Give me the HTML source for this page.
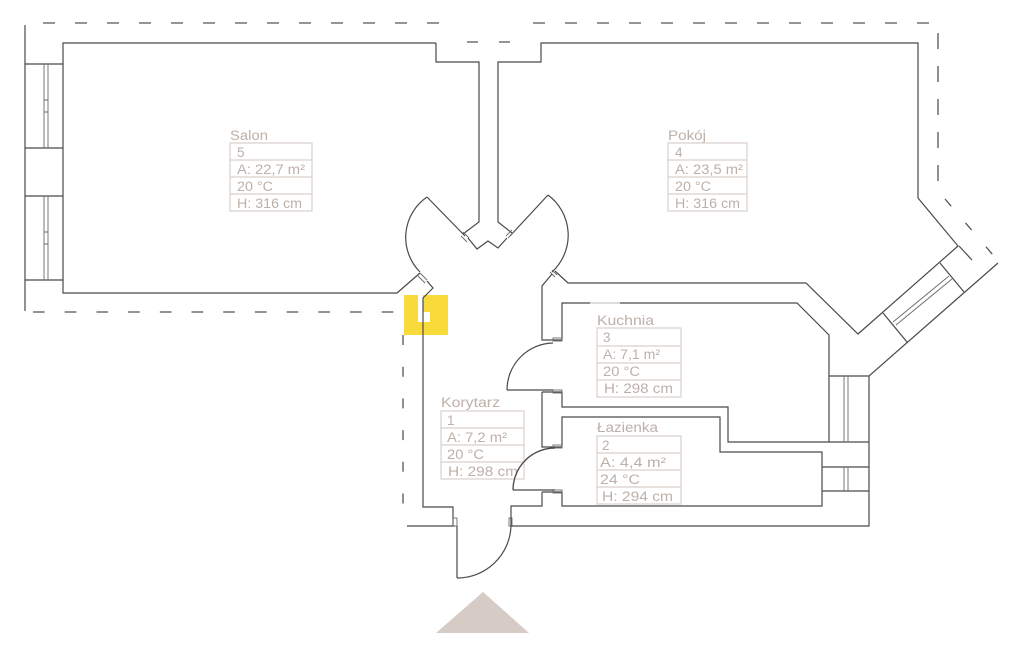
<!DOCTYPE html>
<html><head><meta charset="utf-8"><style>
html,body{margin:0;padding:0;background:#fff;}
svg{display:block;}
.w{fill:none;stroke:#4a4a4a;stroke-width:1.2;stroke-linejoin:miter;}
.t{fill:none;stroke:#6a6a6a;stroke-width:0.9;}
.d{fill:none;stroke:#555;stroke-width:1.3;}
.tb{fill:none;stroke:#d9d0cb;stroke-width:1.2;}
text{font-family:"Liberation Sans",sans-serif;font-size:13.5px;fill:#bdb0a9;}
</style></head><body>
<svg width="1024" height="655" viewBox="0 0 1024 655" xmlns="http://www.w3.org/2000/svg">
<rect width="1024" height="655" fill="#fff"/>

<!-- yellow logo -->
<g fill="#f8da3a">
<path d="M404,295 H418 V322 H430 V312 H423 V295 H448 V335 H404 Z"/>
</g>

<!-- dashed outlines -->
<path class="d" d="M43,23 H440" stroke-dasharray="12 20"/>
<path class="d" d="M533,23 H930" stroke-dasharray="12 20"/>
<path class="d" d="M467,42 H512" stroke-dasharray="11 21"/>
<path class="d" d="M33,312 H395" stroke-dasharray="11.7 20"/>
<path class="d" d="M403,335 V506" stroke-dasharray="10 21.7"/>
<path class="d" d="M938,33 V185" stroke-dasharray="16 17"/>
<path class="d" d="M945,199 L993,255" stroke-dasharray="9.5 22"/>

<!-- left exterior + windows -->
<path class="w" d="M25,25 V311"/>
<path class="w" d="M25,64 H63 M25,148 H63 M25,196 H63 M25,280 H63"/>
<path class="t" d="M44,64 V148 M48,64 V148 M44,196 V280 M48,196 V280"/>
<path class="t" d="M44,100 H48 M44,112 H48 M44,232 H48 M44,244 H48"/>

<!-- Salon -->
<path class="w" d="M436,43 H63 V293 H397 L420,273"/>
<path class="w" d="M436,43 V62 H479 V222 L463,234"/>
<!-- Pokoj -->
<path class="w" d="M498,222 V62 H541 V43 H918 V198 L958,246 L858,334 L806,283 H568 L555,271"/>
<path class="w" d="M498,222 L512,233"/>
<path class="w" d="M468,238 L477,249 L488,241 L498,248 L507,238"/>

<!-- double doors to Salon/Pokoj -->
<path class="w" d="M427,197 L465,236"/>
<path class="w" d="M427,197 A49,49 0 0 0 420,272"/>
<path class="w" d="M548,195 L510,236"/>
<path class="w" d="M548,195 A50,50 0 0 1 552,272"/>
<path class="t" d="M461,236 L467,242 M463,232 L469,238 M508,238 L514,232 M506,236 L512,230"/>

<!-- Salon door frame & corridor left wall -->
<path class="t" d="M420,273 L427,280 M418,276 L425,283"/>
<path class="w" d="M427,281 L433,288 L423,298 V507 H453 V526"/>
<path class="w" d="M407,526 H455"/>
<rect x="453" y="518" width="4" height="8" class="t"/>
<rect x="509" y="518" width="3" height="8" class="t"/>

<!-- entrance door -->
<path class="w" d="M457,526 V578"/>
<path class="w" d="M457,578 A54,54 0 0 0 511,526"/>
<path class="w" d="M511,526 V506 H542 V492"/>
<path class="w" d="M511,526 H869 V376 L998,263"/>

<!-- corridor right wall / Kuchnia -->
<path class="t" d="M552,270 L557,275 M550,272 L555,277"/>
<path class="w" d="M552,274 L542,286 V340 H562"/>
<path class="w" d="M562,340 V303 H590"/>
<path class="w" d="M590,303 H620" style="stroke:#c8c8c8"/>
<path class="w" d="M620,303 H797 L829,335 V442 H728 V407 H562 V392"/>
<path class="w" d="M542,392 H562 M542,392 V447 H562"/>
<rect x="553" y="338" width="9" height="3" class="t"/>
<rect x="553" y="390" width="9" height="3" class="t"/>
<!-- Kuchnia door -->
<path class="w" d="M553,390 H507"/>
<path class="w" d="M507,390 A47,47 0 0 1 553,343"/>

<!-- Lazienka -->
<path class="w" d="M562,447 V417 H720 V452 H822 V506 H562 V492"/>
<path class="w" d="M542,492 H562"/>
<rect x="553" y="445" width="9" height="3" class="t"/>
<rect x="553" y="490" width="9" height="3" class="t"/>
<path class="w" d="M555,490 H513"/>
<path class="w" d="M513,490 A42,42 0 0 1 555,448"/>

<!-- right windows -->
<path class="w" d="M829,376 H869 M829,442 H869 M822,467 H869 M822,491 H869"/>
<path class="t" d="M844,376 V442 M848,376 V442 M844,467 V491 M848,467 V491"/>
<path class="w" d="M883,313 L907,342 M940,263 L964,292 M959,246 L972,260"/>
<path class="t" d="M893,322 L949,276 M896,325 L952,279"/>

<!-- triangle -->
<polygon points="483,592 436,633 529,633" fill="#d6cbc5"/>

<!-- Salon table -->
<text x="230" y="140" textLength="38" lengthAdjust="spacingAndGlyphs">Salon</text>
<g class="tb"><rect x="230" y="143" width="82" height="68"/><path d="M230,160 H312 M230,177 H312 M230,194 H312"/></g>
<text x="237" y="157">5</text>
<text x="237" y="174" textLength="68" lengthAdjust="spacingAndGlyphs">A: 22,7 m²</text>
<text x="237" y="191" textLength="36" lengthAdjust="spacingAndGlyphs">20 °C</text>
<text x="237" y="208" textLength="65" lengthAdjust="spacingAndGlyphs">H: 316 cm</text>

<!-- Pokoj table -->
<text x="668" y="140" textLength="38" lengthAdjust="spacingAndGlyphs">Pokój</text>
<g class="tb"><rect x="668" y="143" width="79" height="68"/><path d="M668,160 H747 M668,177 H747 M668,194 H747"/></g>
<text x="675" y="157">4</text>
<text x="675" y="174" textLength="68" lengthAdjust="spacingAndGlyphs">A: 23,5 m²</text>
<text x="675" y="191" textLength="36" lengthAdjust="spacingAndGlyphs">20 °C</text>
<text x="675" y="208" textLength="65" lengthAdjust="spacingAndGlyphs">H: 316 cm</text>

<!-- Kuchnia table -->
<text x="597" y="325" textLength="57" lengthAdjust="spacingAndGlyphs">Kuchnia</text>
<g class="tb"><rect x="597" y="328" width="84" height="69"/><path d="M597,346 H681 M597,363 H681 M597,380 H681"/></g>
<text x="603" y="342">3</text>
<text x="603" y="359" textLength="57" lengthAdjust="spacingAndGlyphs">A: 7,1 m²</text>
<text x="603" y="376" textLength="37" lengthAdjust="spacingAndGlyphs">20 °C</text>
<text x="604" y="393" textLength="69" lengthAdjust="spacingAndGlyphs">H: 298 cm</text>

<!-- Lazienka table -->
<text x="597" y="432" textLength="61" lengthAdjust="spacingAndGlyphs">Łazienka</text>
<g class="tb"><rect x="597" y="436" width="84" height="68"/><path d="M597,453 H681 M597,470 H681 M597,487 H681"/></g>
<text x="602" y="450">2</text>
<text x="600" y="467" textLength="66" lengthAdjust="spacingAndGlyphs">A: 4,4 m²</text>
<text x="600" y="484" textLength="40" lengthAdjust="spacingAndGlyphs">24 °C</text>
<text x="602" y="501" textLength="71" lengthAdjust="spacingAndGlyphs">H: 294 cm</text>

<!-- Korytarz table -->
<text x="441" y="407" textLength="59" lengthAdjust="spacingAndGlyphs">Korytarz</text>
<g class="tb"><rect x="441" y="411" width="83" height="68"/><path d="M441,428 H524 M441,445 H524 M441,462 H524"/></g>
<text x="447" y="425">1</text>
<text x="447" y="442" textLength="60" lengthAdjust="spacingAndGlyphs">A: 7,2 m²</text>
<text x="447" y="459" textLength="37" lengthAdjust="spacingAndGlyphs">20 °C</text>
<text x="448" y="476" textLength="70" lengthAdjust="spacingAndGlyphs">H: 298 cm</text>

<!-- redraw Lazienka door arc over Korytarz table -->
<path class="w" d="M513,490 A42,42 0 0 1 555,448"/>
</svg>
</body></html>
